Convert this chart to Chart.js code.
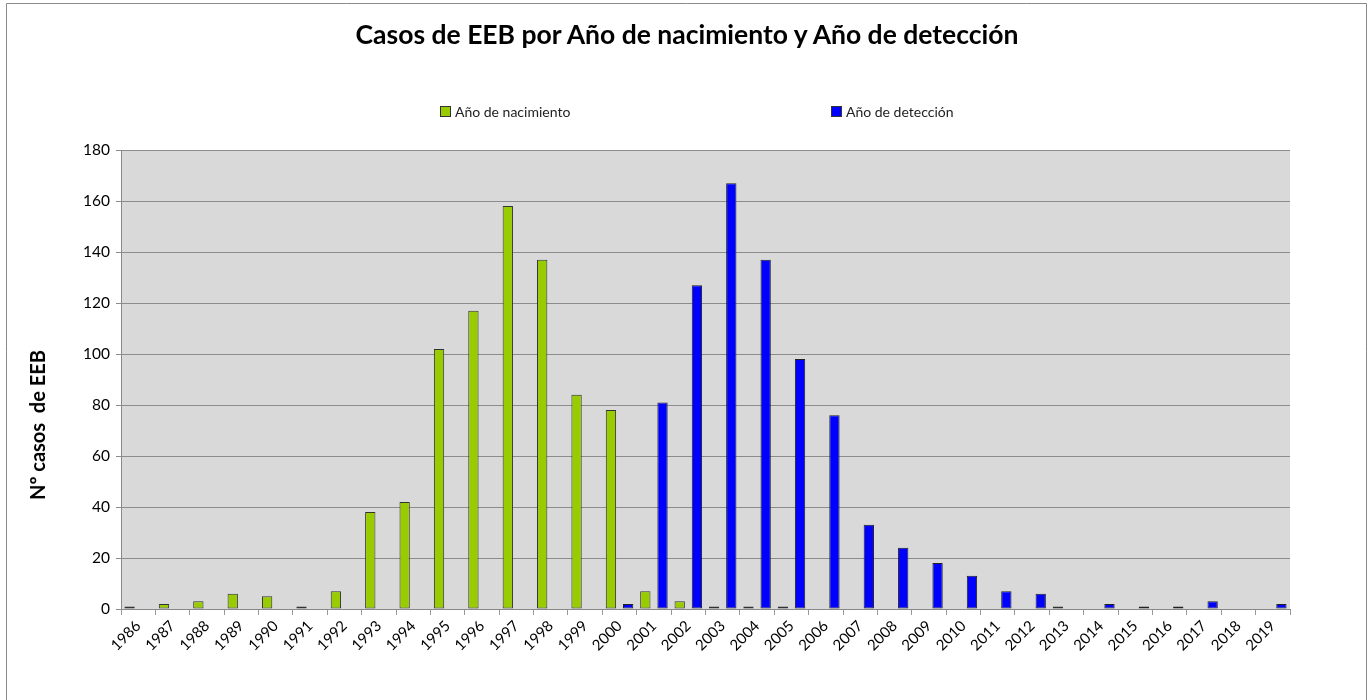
<!DOCTYPE html>
<html>
<head>
<meta charset="utf-8">
<script src="https://cdn.jsdelivr.net/npm/chart.js@4"></script>
<style>
  body { margin: 0; background: #fff; }
  #wrap { position: relative; width: 1368px; height: 700px; }
  #titulo { position: absolute; top: 18px; left: 0; width: 1374px; text-align: center; font-family: Lato, sans-serif; font-weight: bold; font-size: 26.5px; color: #000; }
  #tituloY { position: absolute; left: 37px; top: 425px; transform: translate(-50%, -50%) rotate(-90deg); white-space: pre; font-family: Lato, sans-serif; font-weight: bold; font-size: 20px; color: #000; }
  #leyenda { position: absolute; top: 103px; left: 0; width: 1368px; font-family: Lato, sans-serif; font-size: 14px; color: #222; }
  .item { position: absolute; display: flex; align-items: center; }
  .caja { width: 9px; height: 9px; border: 1px solid #333; margin-right: 4px; }
</style>
</head>
<body>
<div id="wrap">
  <canvas id="myChart" width="1368" height="700"></canvas>
  <div id="titulo">Casos de EEB por Año de nacimiento y Año de detección</div>
  <div id="tituloY">Nº casos  de EEB</div>
  <div id="leyenda"></div>
</div>
<script>
// datos
const anios = ['1986','1987','1988','1989','1990','1991','1992','1993','1994','1995','1996','1997',
  '1998','1999','2000','2001','2002','2003','2004','2005','2006','2007','2008','2009','2010','2011',
  '2012','2013','2014','2015','2016','2017','2018','2019'];
const nacimiento = [1, 2, 3, 6, 5, 1, 7, 38, 42, 102, 117, 158, 137, 84, 78, 7, 3, 1, 1, 1,
  0, 0, 0, 0, 0, 0, 0, 1, 0, 0, 0, 0, 0, 0];
const deteccion = [0, 0, 0, 0, 0, 0, 0, 0, 0, 0, 0, 0, 0, 0, 2, 81, 127, 167, 137, 98,
  76, 33, 24, 18, 13, 7, 6, 0, 2, 1, 1, 3, 0, 2];
const etiquetasY = [0, 20, 40, 60, 80, 100, 120, 140, 160, 180];

const verde = '#99cc00';
const azul = '#0000ff';

let ctx = document.getElementById('myChart').getContext('2d');

// fondo gris del area y marco exterior
const fondo = {
  id: 'fondo',
  beforeDraw(chart) {
    const a = chart.chartArea;
    const c = chart.ctx;
    c.save();
    c.fillStyle = '#d9d9d9';
    c.fillRect(a.left, a.top, a.right - a.left, a.bottom - a.top);
    c.strokeStyle = '#8a8a8a';
    c.lineWidth = 1;
    c.beginPath();
    c.moveTo(6.5, 700); c.lineTo(6.5, 3.5); c.lineTo(1366.5, 3.5); c.lineTo(1366.5, 700);
    c.stroke();
    c.restore();
  }
};

// sin borde en las barras a cero
const borde = c => (c.raw === 0 ? 0 : 1);

let barChart = new Chart(ctx, {
  type: 'bar',
  data: {
    labels: anios,
    datasets: [{
      label: 'Año de nacimiento',
      data: nacimiento,
      backgroundColor: verde,
      borderColor: '#333',
      borderWidth: borde,
      borderSkipped: false
    }, {
      label: 'Año de detección',
      data: deteccion,
      backgroundColor: azul,
      borderColor: '#222',
      borderWidth: borde,
      borderSkipped: false
    }]
  },
  options: {
    responsive: false,
    animation: false,
    categoryPercentage: 1,
    barPercentage: 0.6,
    layout: { padding: { left: 18, right: 78, top: 150, bottom: 0 } },
    plugins: {
      legend: { display: false },
      tooltip: { enabled: false },
      title: { display: false }
    },
    scales: {
      x: {
        grid: { drawOnChartArea: false, offset: true, tickLength: 6, color: '#999' },
        border: { color: '#888' },
        ticks: {
          maxRotation: 45, minRotation: 45, autoSkip: false,
          color: '#000', font: { family: 'Lato', size: 15 }, padding: 2
        },
        afterFit(scale) { scale.height = 91; }
      },
      y: {
        min: 0, max: 180,
        afterBuildTicks(scale) { scale.ticks = etiquetasY.map(v => ({ value: v })); },
        grid: { color: '#8c8c8c', tickLength: 5 },
        border: { color: '#888' },
        ticks: { color: '#000', font: { family: 'Lato', size: 15.5 }, padding: 6 },
        afterFit(scale) { scale.width = 103; }
      }
    }
  },
  plugins: [fondo]
});

// leyenda en html, con la posicion del original
const leyenda = document.getElementById('leyenda');
const posiciones = [440, 831];
barChart.data.datasets.forEach((ds, i) => {
  const it = document.createElement('div');
  it.className = 'item';
  it.style.left = posiciones[i] + 'px';
  it.innerHTML = '<span class="caja" style="background:' + ds.backgroundColor + '"></span>' + ds.label;
  leyenda.appendChild(it);
});
</script>
</body>
</html>
